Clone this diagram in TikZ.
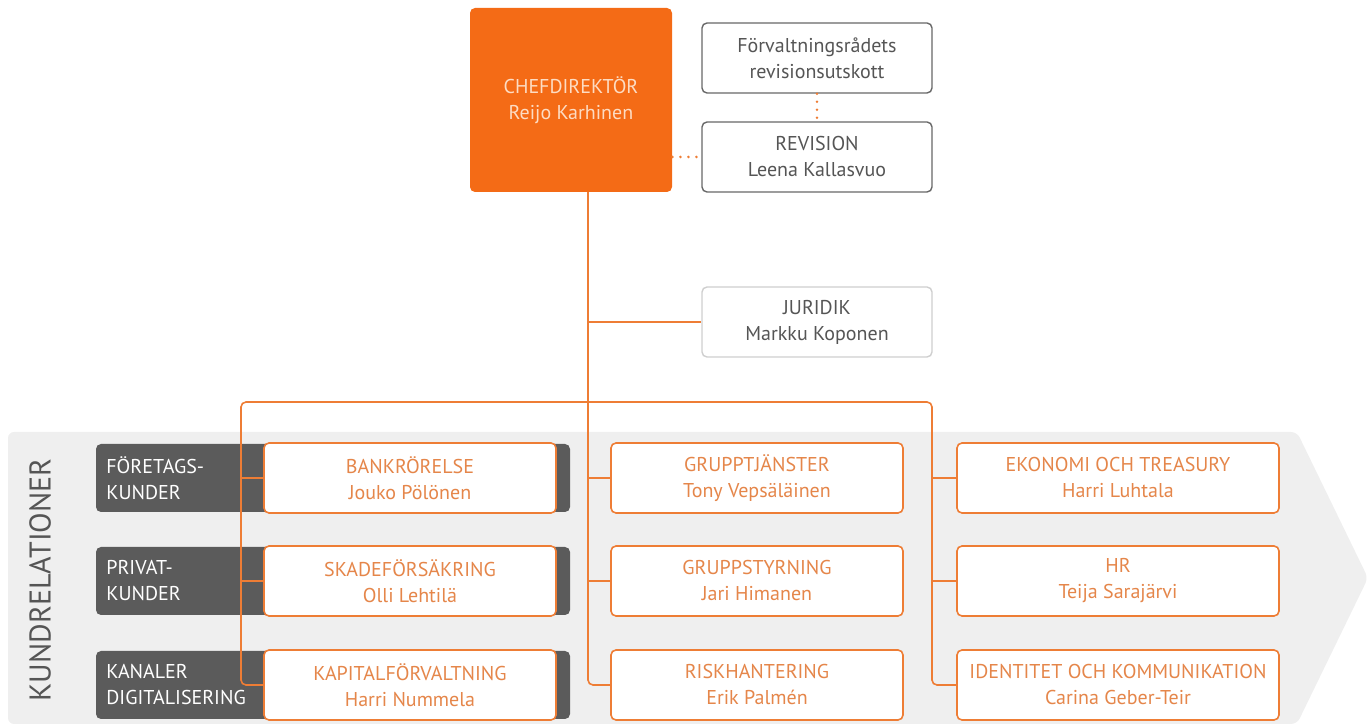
\documentclass[tikz,border=0pt]{standalone}
\usepackage{fontspec}
\setmainfont{PT Sans}
\definecolor{orline}{HTML}{EE7D35}
\definecolor{ceofill}{HTML}{F46B16}
\definecolor{ceotext}{HTML}{FDDCC3}
\definecolor{ortext}{HTML}{E5864A}
\definecolor{tabgray}{HTML}{5B5B5B}
\definecolor{bandgray}{HTML}{EFEFEF}
\definecolor{gtext}{HTML}{555555}
\definecolor{gborder}{HTML}{686868}
\definecolor{lborder}{HTML}{CFCFCF}
\begin{document}
\begin{tikzpicture}[x=0.5pt,y=-0.5pt,
  base/.style={rounded corners=2.5pt, align=center, inner sep=0pt, font=\fontsize{10}{13}\selectfont},
  orgbox/.style={base, draw=orline, line width=0.8pt, fill=white, text=ortext, minimum width=146pt, minimum height=35pt},
  widebox/.style={orgbox, minimum width=161pt},
  topbox/.style={base, draw=gborder, line width=0.7pt, fill=white, text=gtext, minimum width=115pt, minimum height=35pt},
  ceobox/.style={base, fill=ceofill, text=ceotext, minimum width=101pt, minimum height=92pt},
  tabbox/.style={rounded corners=2.5pt, fill=tabgray, minimum width=237pt, minimum height=34pt, inner sep=0pt},
  tablabel/.style={anchor=west, align=left, text=white, inner sep=0pt, font=\fontsize{10}{13}\selectfont},
  conn/.style={draw=orline, line width=0.8pt, rounded corners=2.5pt},
  dotline/.style={draw=orline, line width=1.4pt, line cap=round, dash pattern=on 0pt off 4pt}
]
\useasboundingbox (0,0) rectangle (1372,726);
% background band
\fill[bandgray, rounded corners=3pt] (8,432) -- (1297,432) -- (1368,578) -- (1297,724) -- (8,724) -- cycle;
\node[rotate=90, text=gtext, font=\fontsize{15}{15}\selectfont, inner sep=0pt] (kr) at (40,580) {KUNDRELATIONER};

% tabs
\node[tabbox] (t1) at (333,478) {};
\node[tabbox] (t2) at (333,581) {};
\node[tabbox] (t3) at (333,685) {};
\node[tablabel] (tl1) at (106,478) {FÖRETAGS-\\KUNDER};
\node[tablabel] (tl2) at (106,581) {PRIVAT-\\KUNDER};
\node[tablabel] (tl3) at (106,685) {KANALER\\DIGITALISERING};

% top
\node[ceobox] (ceo) at (571,100) {CHEFDIREKTÖR\\Reijo Karhinen};
\node[topbox] (forv) at (817,58) {Förvaltningsrådets\\revisionsutskott};
\node[topbox] (rev) at (817,157) {REVISION\\Leena Kallasvuo};
\node[topbox, draw=lborder] (jur) at (817,322) {JURIDIK\\Markku Koponen};

% boxes
\node[orgbox] (bank) at (410,478) {BANKRÖRELSE\\Jouko Pölönen};
\node[orgbox] (skade) at (410,581) {SKADEFÖRSÄKRING\\Olli Lehtilä};
\node[orgbox] (kap) at (410,685) {KAPITALFÖRVALTNING\\Harri Nummela};
\node[orgbox] (gtj) at (757,478) {GRUPPTJÄNSTER\\Tony Vepsäläinen};
\node[orgbox] (gst) at (757,581) {GRUPPSTYRNING\\Jari Himanen};
\node[orgbox] (risk) at (757,685) {RISKHANTERING\\Erik Palmén};
\node[widebox] (eko) at (1118,478) {EKONOMI OCH TREASURY\\Harri Luhtala};
\node[widebox] (hr) at (1118,581) {HR\\Teija Sarajärvi};
\node[widebox] (idk) at (1118,685) {IDENTITET OCH KOMMUNIKATION\\Carina Geber-Teir};

% connectors
\coordinate (M) at (588,192);
\coordinate (L) at (241,402);
\coordinate (R) at (932,402);
\draw[conn] (M) |- (risk.west);
\draw[conn] (M |- jur.west) -- (jur.west);
\draw[conn] (kap.west) -| (L) -| (R |- idk.west) -- (idk.west);
\draw[conn] (L |- bank.west) -- (bank.west);
\draw[conn] (L |- skade.west) -- (skade.west);
\draw[conn] (M |- gtj.west) -- (gtj.west);
\draw[conn] (M |- gst.west) -- (gst.west);
\draw[conn] (R |- eko.west) -- (eko.west);
\draw[conn] (R |- hr.west) -- (hr.west);
\draw[dotline] (ceo.east |- rev.west) -- (rev.west);
\draw[dotline] (forv.south) -- (rev.north);
\end{tikzpicture}
\end{document}
